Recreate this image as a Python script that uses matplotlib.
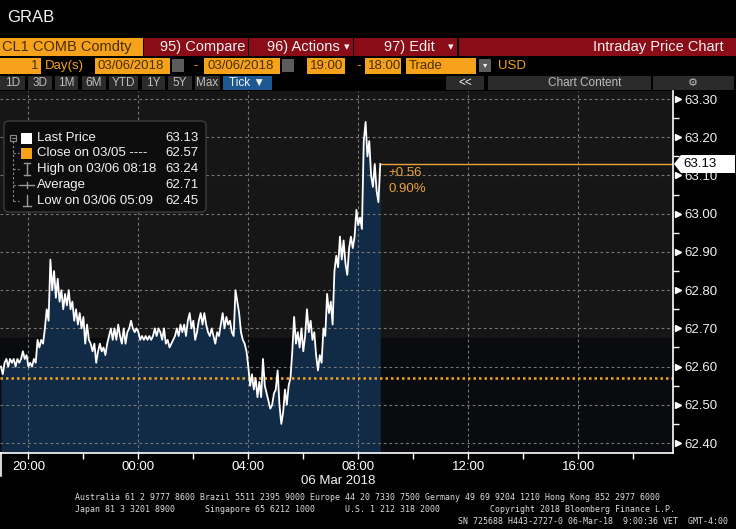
import numpy as np
import pandas as pd
import matplotlib
matplotlib.use('Agg')
import matplotlib.pyplot as plt
import matplotlib.dates as mdates
from matplotlib.patches import Rectangle, FancyBboxPatch, Polygon
from matplotlib.lines import Line2D
from matplotlib.transforms import IdentityTransform, blended_transform_factory

plt.rcParams['font.family'] = ['Liberation Sans', 'DejaVu Sans']

W, H = 736, 529

# ---- data ----
start_time = '2018-03-05 19:00'
step = '4min'
prices = [
    62.60, 62.58, 62.61, 62.62, 62.60, 62.62, 62.61, 62.62, 62.60, 62.62,
    62.61, 62.62, 62.64, 62.62, 62.63, 62.60, 62.61, 62.60, 62.62, 62.61,
    62.67, 62.65, 62.67, 62.66, 62.70, 62.75, 62.72, 62.88, 62.80, 62.85,
    62.78, 62.83, 62.77, 62.80, 62.75, 62.79, 62.76, 62.80, 62.75, 62.77,
    62.72, 62.75, 62.71, 62.74, 62.70, 62.73, 62.66, 62.71, 62.67, 62.66,
    62.64, 62.66, 62.61, 62.64, 62.66, 62.64, 62.65, 62.63, 62.66, 62.68,
    62.70, 62.67, 62.70, 62.67, 62.71, 62.68, 62.66, 62.70, 62.66, 62.69,
    62.70, 62.72, 62.70, 62.69, 62.70, 62.69, 62.67, 62.68, 62.67, 62.68,
    62.67, 62.68, 62.67, 62.68, 62.70, 62.68, 62.70, 62.69, 62.67, 62.70,
    62.66, 62.67, 62.65, 62.66, 62.67, 62.68, 62.70, 62.68, 62.71, 62.69,
    62.71, 62.68, 62.72, 62.74, 62.70, 62.72, 62.67, 62.69, 62.72, 62.74,
    62.71, 62.74, 62.71, 62.69, 62.68, 62.70, 62.68, 62.66, 62.69, 62.68,
    62.71, 62.74, 62.70, 62.73, 62.71, 62.72, 62.69, 62.68, 62.80, 62.77,
    62.74, 62.69, 62.67, 62.66, 62.64, 62.60, 62.55, 62.58, 62.54, 62.57,
    62.52, 62.56, 62.52, 62.62, 62.55, 62.53, 62.51, 62.49, 62.50, 62.53,
    62.54, 62.59, 62.50, 62.45, 62.48, 62.54, 62.50, 62.55, 62.57, 62.64,
    62.73, 62.66, 62.69, 62.65, 62.70, 62.64, 62.68, 62.75, 62.69, 62.72,
    62.67, 62.69, 62.63, 62.59, 62.63, 62.61, 62.70, 62.68, 62.79, 62.74,
    62.77, 62.71, 62.85, 62.89, 62.86, 62.94, 62.88, 62.93, 62.87, 62.84,
    62.91, 62.94, 62.91, 62.94, 63.01, 62.97, 62.99, 62.96, 63.19, 63.24,
    63.15, 63.19, 63.10, 63.07, 63.13, 63.06, 63.03, 63.13,
]
close_prev = 62.57
last_price = 63.13
change_abs = '+0.56'
change_pct = '0.90%'
y_ticks = [62.40, 62.50, 62.60, 62.70, 62.80, 62.90, 63.00, 63.10, 63.20, 63.30]
legend_rows = [
    ('Last Price', '63.13'),
    ('Close on 03/05 ----', '62.57'),
    ('High on 03/06 08:18', '63.24'),
    ('Average', '62.71'),
    ('Low on 03/06 05:09', '62.45'),
]
footer = [
    'Australia 61 2 9777 8600 Brazil 5511 2395 9000 Europe 44 20 7330 7500 Germany 49 69 9204 1210 Hong Kong 852 2977 6000',
    'Japan 81 3 3201 8900      Singapore 65 6212 1000      U.S. 1 212 318 2000          Copyright 2018 Bloomberg Finance L.P.',
    'SN 725688 H443-2727-0 06-Mar-18  9:00:36 VET  GMT-4:00',
]

times = pd.date_range(start_time, periods=len(prices), freq=step).to_numpy()

ORANGE = '#f7a21b'
RED = '#8a0c17'
BTN = '#2b2b2b'
WHITE = '#f2f2f2'

fig = plt.figure(figsize=(W / 100, H / 100), dpi=100, facecolor='black')


def box(x0, y0, x1, y1, color, **kw):
    fig.add_artist(Rectangle((x0 / W, 1 - y1 / H), (x1 - x0) / W, (y1 - y0) / H,
                             transform=fig.transFigure, facecolor=color,
                             edgecolor='none', **kw))


def txt(x, y, s, size=9.5, color=WHITE, ha='left', **kw):
    fig.text(x / W, 1 - y / H, s, fontsize=size, color=color, ha=ha, va='center', **kw)


# ---- header ----
txt(7, 17, 'GRAB', size=12)

box(0, 38, 143, 56, ORANGE)
txt(2, 47, 'CL1 COMB Comdty', size=10.5, color='#4a2e00')
box(144, 38, 248, 56, RED)
txt(160, 47, '95) Compare', size=10.5)
box(249, 38, 353, 56, RED)
txt(267, 47, '96) Actions', size=10.5)
txt(344, 47, '▾', size=8)
box(354, 38, 457, 56, RED)
txt(384, 47, '97) Edit', size=10.5)
txt(448, 47, '▾', size=8)
box(459, 38, 736, 56, RED)
txt(724, 47, 'Intraday Price Chart', size=10.5, ha='right')

box(0, 58, 41, 74, ORANGE)
txt(38, 66, '1', ha='right', color='#4a2e00')
txt(45, 66, 'Day(s)', color=ORANGE)
box(95, 58, 170, 74, ORANGE)
txt(98, 66, '03/06/2018', color='#4a2e00')
box(172, 59, 184, 72, '#5c5c5c')
txt(193, 66, '-', color=ORANGE)
box(204, 58, 280, 74, ORANGE)
txt(207, 66, '03/06/2018', color='#4a2e00')
box(282, 59, 294, 72, '#5c5c5c')
box(307, 58, 345, 74, ORANGE)
txt(310, 66, '19:00', color='#4a2e00')
txt(356, 66, '-', color=ORANGE)
box(365, 58, 401, 74, ORANGE)
txt(368, 66, '18:00', color='#4a2e00')
box(406, 58, 476, 74, ORANGE)
txt(409, 66, 'Trade', color='#4a2e00')
box(479, 59, 491, 72, '#5c5c5c')
txt(485, 66, '▾', size=6, ha='center')
txt(498, 66, 'USD', color=ORANGE)

for label, x0, x1 in [('1D', 0, 25), ('3D', 28, 52), ('1M', 55, 78), ('6M', 82, 106),
                      ('YTD', 109, 138), ('1Y', 142, 165), ('5Y', 168, 192), ('Max', 195, 220)]:
    box(x0, 76, x1, 90, BTN)
    txt((x0 + x1) / 2, 83, label, size=8.5, color='#bdbdbd', ha='center')
box(223, 76, 272, 90, '#1e5891')
txt(247, 83, 'Tick ▼', size=8.5, ha='center')
box(446, 76, 484, 90, BTN)
txt(465, 83, '<<', size=8.5, ha='center')
box(488, 76, 651, 90, BTN)
txt(548, 83, 'Chart Content', size=8.5, color='#bdbdbd')
box(653, 76, 734, 90, BTN)
txt(693, 83, '⚙', size=8, color='#bdbdbd', ha='center')

# ---- chart ----
ax_left, ax_right, ax_top, ax_bot = 0, 673, 91, 453
ax = fig.add_axes([ax_left / W, 1 - ax_bot / H, (ax_right - ax_left) / W, (ax_bot - ax_top) / H])
ax.set_facecolor('#161616')
x_lo = np.datetime64('2018-03-05T18:58')
x_hi = np.datetime64('2018-03-06T19:27')
y_lo, y_hi = 62.374, 63.321
ax.set_xlim(x_lo, x_hi)
ax.set_ylim(y_lo, y_hi)
ax.axhspan(y_lo, 62.675, color='#0a0b0f', zorder=0)

ax.fill_between(times, prices, y_lo, color='#112a45', lw=0, zorder=1)
ax.plot(times, prices, color='white', lw=1.3, zorder=3)

ax.axhline(close_prev, color='#f5a31f', lw=1.8, ls=(0, (1.0, 1.2)), zorder=2)
ax.hlines(last_price, times[-1], x_hi, color='#e9a23b', lw=1.0, zorder=2)
ax.annotate(change_abs, (times[-1], last_price), xytext=(8, -9), textcoords='offset pixels',
            color='#e9a23b', fontsize=9.5, va='center')
ax.annotate(change_pct, (times[-1], last_price), xytext=(8, -25), textcoords='offset pixels',
            color='#e9a23b', fontsize=9.5, va='center')

ax.xaxis.set_major_locator(mdates.HourLocator(byhour=[0, 4, 8, 12, 16, 20]))
ax.xaxis.set_minor_locator(mdates.HourLocator(byhour=range(0, 24, 2)))
ax.xaxis.set_major_formatter(mdates.DateFormatter('%H:%M'))
ax.set_yticks(y_ticks)
ax.set_yticks([v + 0.05 for v in y_ticks[:-1]], minor=True)
ax.yaxis.tick_right()
ax.set_yticklabels([f'{v:.2f}' for v in y_ticks])

ax.grid(True, which='major', color='#777777', lw=0.8, ls=(0, (2.5, 2.5)))
ax.tick_params(axis='x', which='both', colors='white', direction='out', length=4, width=1,
               labelsize=9.5, pad=2)
ax.tick_params(axis='y', which='major', length=0, pad=8, labelsize=9.5, labelcolor=WHITE)
ax.tick_params(axis='y', which='minor', colors='white', length=4, width=1)
for side in ['top', 'left']:
    ax.spines[side].set_visible(False)
for side in ['right', 'bottom']:
    ax.spines[side].set_color('white')
    ax.spines[side].set_linewidth(1.2)

tri = blended_transform_factory(ax.transAxes, ax.transData)
ax.plot([1 + 4.5 / 673] * len(y_ticks), y_ticks, ls='none', marker='>', ms=4.5,
        color='white', transform=tri, clip_on=False)

# last price tag on the axis
fig.canvas.draw()
ly = ax.transData.transform((0, last_price))[1]
tag = Polygon([(674, ly), (681, ly + 9), (735, ly + 9), (735, ly - 9), (681, ly - 9)],
              closed=True, facecolor='white', edgecolor='none', transform=IdentityTransform())
fig.add_artist(tag)
fig.text(683 / W, ly / H, f'{last_price:.2f}', fontsize=9.5, color='black', va='center')

txt(338, 481, '06 Mar 2018', size=9.5, ha='center')
fig.add_artist(Line2D([1 / W, 1 / W], [1 - 453 / H, 1 - 476 / H], color='white', lw=1.2,
                      transform=fig.transFigure))

# ---- legend ----
fig.add_artist(FancyBboxPatch((4, H - 212), 202, 91, boxstyle='round,pad=0,rounding_size=5',
                              facecolor='#0d0d0d', edgecolor='#3c3c3c', lw=1,
                              transform=IdentityTransform()))
row_y = [138, 153, 169, 185, 201]
for (name, val), y in zip(legend_rows, row_y):
    txt(37, y, name, size=9.5)
    txt(199, y, val, size=9.5, ha='right')
# tree
fig.add_artist(Rectangle((10, H - 141), 6, 6, facecolor='none', edgecolor='#8a8a8a', lw=0.8,
                         transform=IdentityTransform()))
fig.add_artist(Line2D([11.5, 14.5], [H - 138, H - 138], color='#8a8a8a', lw=0.8,
                      transform=IdentityTransform()))
fig.add_artist(Line2D([13, 13], [H - 141, H - 201], color='#8a8a8a', lw=0.8, ls=(0, (2, 2)),
                      transform=IdentityTransform()))
for y in row_y[1:]:
    fig.add_artist(Line2D([13, 19], [H - y, H - y], color='#8a8a8a', lw=0.8, ls=(0, (2, 2)),
                          transform=IdentityTransform()))
fig.add_artist(Rectangle((21, H - 144), 11, 11, facecolor='white', transform=IdentityTransform()))
fig.add_artist(Rectangle((21, H - 159), 11, 11, facecolor=ORANGE, transform=IdentityTransform()))
gray = '#9a9a9a'
for xs, ys in [([27, 27], [H - 163, H - 175]), ([24, 30], [H - 163, H - 163]), ([24, 30], [H - 175, H - 175]),
               ([20, 34], [H - 185, H - 185]), ([27, 27], [H - 182, H - 188]),
               ([27, 27], [H - 195, H - 206]), ([23, 31], [H - 206, H - 206])]:
    fig.add_artist(Line2D(xs, ys, color=gray, lw=1, transform=IdentityTransform()))

# ---- footer ----
txt(75, 497, footer[0], size=5.95, family='DejaVu Sans Mono', color='#dddddd')
txt(75, 509, footer[1], size=5.95, family='DejaVu Sans Mono', color='#dddddd')
txt(728, 521, footer[2], size=5.95, family='DejaVu Sans Mono', color='#dddddd', ha='right')

fig.savefig('out.png', dpi=100, facecolor='black')
